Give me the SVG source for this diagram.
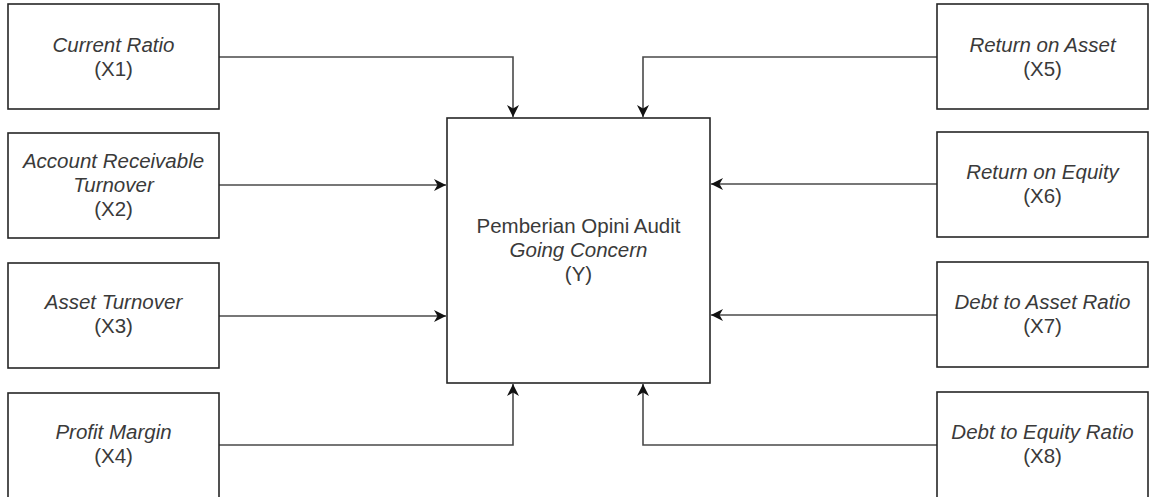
<svg xmlns="http://www.w3.org/2000/svg" width="1149" height="497" viewBox="0 0 1149 497">
  <style>
    .box { fill: #ffffff; stroke: #262626; stroke-width: 1.6; }
    .t { font-family: "Liberation Sans", Arial, sans-serif; font-size: 20.5px; fill: #3a3a3a; text-anchor: middle; }
    .i { font-style: italic; }
    .conn { fill: none; stroke: #4a4a4a; stroke-width: 1.6; marker-end: url(#arr); }
  </style>
  <defs>
    <marker id="arr" markerUnits="userSpaceOnUse" markerWidth="14" markerHeight="12" refX="12" refY="6" orient="auto">
      <path d="M0,0 L12,6 L0,12 L3.5,6 Z" fill="#111111"/>
    </marker>
  </defs>
  <rect width="1149" height="497" fill="#ffffff"/>

  <g id="connectors">
    <path class="conn" d="M219,57 H513 V117"/>
    <path class="conn" d="M219,185 H446"/>
    <path class="conn" d="M219,316 H446"/>
    <path class="conn" d="M219,445 H513 V384"/>
    <path class="conn" d="M937,57 H643 V117"/>
    <path class="conn" d="M937,184 H711"/>
    <path class="conn" d="M937,315 H711"/>
    <path class="conn" d="M937,445 H643 V384"/>
  </g>

  <g id="x1">
    <rect class="box" x="8" y="4" width="211" height="105"/>
    <text class="t" x="113.5" y="52"><tspan class="i">Current Ratio</tspan><tspan x="113.5" dy="24">(X1)</tspan></text>
  </g>
  <g id="x2">
    <rect class="box" x="8" y="133" width="211" height="105"/>
    <text class="t" x="113.5" y="168"><tspan class="i">Account Receivable</tspan><tspan class="i" x="113.5" dy="24">Turnover</tspan><tspan x="113.5" dy="24">(X2)</tspan></text>
  </g>
  <g id="x3">
    <rect class="box" x="8" y="263" width="211" height="105"/>
    <text class="t" x="113.5" y="309"><tspan class="i">Asset Turnover</tspan><tspan x="113.5" dy="24">(X3)</tspan></text>
  </g>
  <g id="x4">
    <rect class="box" x="8" y="393" width="211" height="106"/>
    <text class="t" x="113.5" y="439"><tspan class="i">Profit Margin</tspan><tspan x="113.5" dy="24">(X4)</tspan></text>
  </g>

  <g id="x5">
    <rect class="box" x="937" y="4" width="211" height="105"/>
    <text class="t" x="1042.5" y="52"><tspan class="i">Return on Asset</tspan><tspan x="1042.5" dy="24">(X5)</tspan></text>
  </g>
  <g id="x6">
    <rect class="box" x="937" y="132" width="211" height="105"/>
    <text class="t" x="1042.5" y="179"><tspan class="i">Return on Equity</tspan><tspan x="1042.5" dy="24">(X6)</tspan></text>
  </g>
  <g id="x7">
    <rect class="box" x="937" y="262" width="211" height="105"/>
    <text class="t" x="1042.5" y="309"><tspan class="i">Debt to Asset Ratio</tspan><tspan x="1042.5" dy="24">(X7)</tspan></text>
  </g>
  <g id="x8">
    <rect class="box" x="937" y="392" width="211" height="106"/>
    <text class="t" x="1042.5" y="439"><tspan class="i">Debt to Equity Ratio</tspan><tspan x="1042.5" dy="24">(X8)</tspan></text>
  </g>

  <g id="y">
    <rect class="box" x="447" y="118" width="263" height="265"/>
    <text class="t" x="578.5" y="233">Pemberian Opini Audit<tspan class="i" x="578.5" dy="24">Going Concern</tspan><tspan x="578.5" dy="24">(Y)</tspan></text>
  </g>
</svg>
